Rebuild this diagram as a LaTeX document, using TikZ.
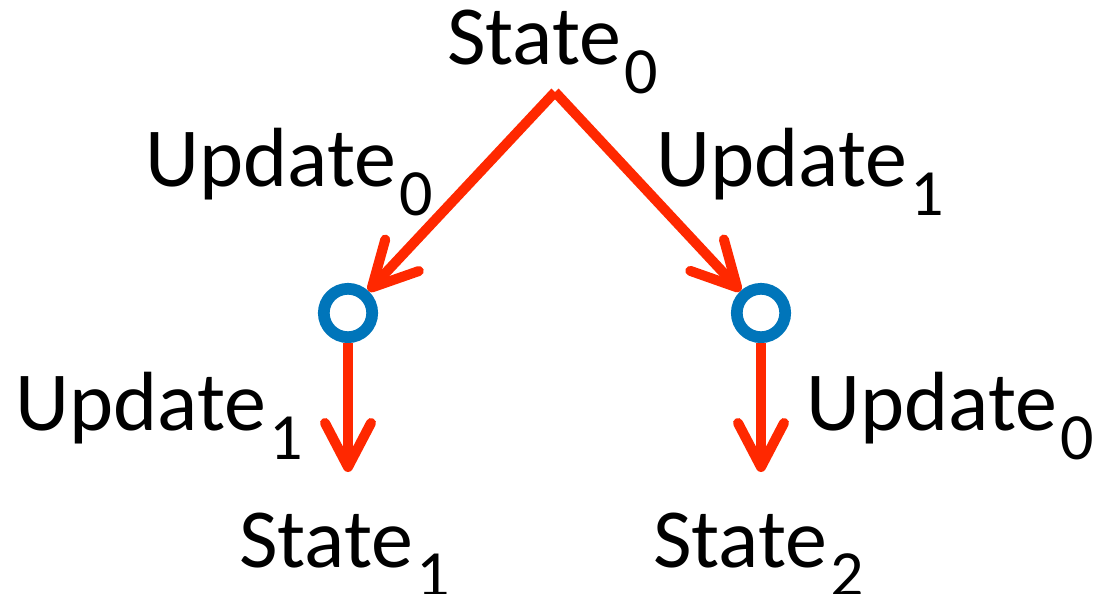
\documentclass[tikz,border=0pt]{standalone}
\usepackage{fontspec}
\setmainfont{Carlito}
\usetikzlibrary{arrows.meta,shadows}
\definecolor{rd}{RGB}{255,40,0}
\definecolor{bl}{RGB}{0,117,186}
\newcommand\sbs[1]{\hspace{3pt}\raisebox{-29pt}{\fontsize{66}{66}\selectfont #1}}
\begin{document}
\begin{tikzpicture}[x=1pt,y=-1pt,
  lbl/.style={anchor=base west, inner sep=0pt, font=\fontsize{84}{100}\selectfont},
  ring/.style={circle, draw=bl, line width=11.7pt, minimum size=48.4pt, inner sep=0pt, fill=white,
    drop shadow={shadow xshift=1pt, shadow yshift=-2.5pt, opacity=0.3, fill=black!60}},
  arr/.style={draw=rd, line width=10pt, line cap=butt,
    -{Straight Barb[length=44pt,width=46pt,line cap=round,line join=round]}}
]
\useasboundingbox (0,0) rectangle (1104,594);
\node[lbl] (s0) at (447,65) {State\sbs{0}};
\node[lbl] (u0a) at (145.5,186) {Update\sbs{0}};
\node[lbl] (u1a) at (656.5,186) {Update\sbs{1}};
\node[lbl] (u1b) at (15.5,430) {Update\sbs{1}};
\node[lbl] (u0b) at (806.5,430) {Update\sbs{0}};
\node[lbl] (s1) at (239,567) {State\sbs{1}};
\node[lbl] (s2) at (653,567) {State\sbs{2}};
\coordinate (apex) at (555,92);
\node[ring] (c1) at (348,313) {};
\node[ring] (c2) at (761,313) {};
\coordinate (t1) at (348,472);
\coordinate (t2) at (761,472);
\draw[arr] (apex) -- (c1);
\draw[arr] (apex) -- (c2);
\draw[arr] (c1) -- (t1);
\draw[arr] (c2) -- (t2);
\end{tikzpicture}
\end{document}
